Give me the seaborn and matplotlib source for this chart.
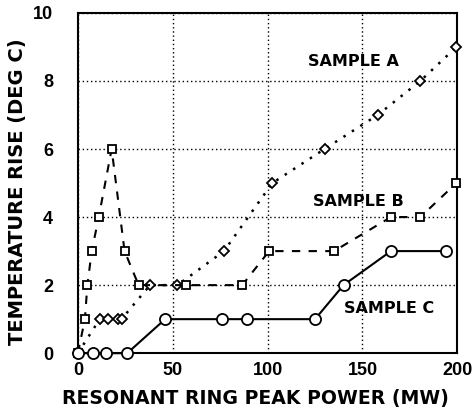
import matplotlib
matplotlib.use("Agg")
import matplotlib.pyplot as plt
import seaborn as sns
import pandas as pd

# Data
a_x = [0, 11.5, 15.7, 21, 23, 38, 52.5, 77, 102.5, 130, 158, 180.5, 199.5]
a_y = [0, 1, 1, 1, 1, 2, 2, 3, 5, 6, 7, 8, 9]

b_x = [0, 3.7, 5, 7.3, 11, 17.8, 24.6, 32, 57, 86.6, 100.8, 135, 165, 180.5, 199.5]
b_y = [0, 1, 2, 3, 4, 6, 3, 2, 2, 2, 3, 3, 4, 4, 5]

c_x = [0, 8, 15, 26, 46, 76, 89, 125, 140, 165, 194]
c_y = [0, 0, 0, 0, 1, 1, 1, 1, 2, 3, 3]

x_ticks = [0, 50, 100, 150, 200]
y_ticks = [0, 2, 4, 6, 8, 10]
labels = ["SAMPLE A", "SAMPLE B", "SAMPLE C"]

sns.set_style("white")
plt.rcParams['font.family'] = ['DejaVu Sans']
plt.rcParams['font.weight'] = 'bold'
plt.rcParams['text.color'] = 'black'
plt.rcParams['axes.labelcolor'] = 'black'
plt.rcParams['xtick.color'] = 'black'
plt.rcParams['ytick.color'] = 'black'

fig = plt.figure(figsize=(4.72, 4.16), dpi=100)
ax = fig.add_axes([0.165, 0.151, 0.804, 0.818])

dfa = pd.DataFrame({"x": a_x, "y": a_y})
dfb = pd.DataFrame({"x": b_x, "y": b_y})
dfc = pd.DataFrame({"x": c_x, "y": c_y})

sns.lineplot(data=dfa, x="x", y="y", ax=ax, sort=False, color="black",
             linestyle=(0, (1, 3)), linewidth=1.8, marker="D", markersize=4.8,
             markerfacecolor="white", markeredgecolor="black", markeredgewidth=1.3,
             clip_on=False, zorder=3)
sns.lineplot(data=dfb, x="x", y="y", ax=ax, sort=False, color="black",
             linestyle=(0, (4, 4)), linewidth=1.5, marker="s", markersize=6.3,
             markerfacecolor="white", markeredgecolor="black", markeredgewidth=1.3,
             clip_on=False, zorder=3)
sns.lineplot(data=dfc, x="x", y="y", ax=ax, sort=False, color="black",
             linestyle="-", linewidth=1.5, marker="o", markersize=8,
             markerfacecolor="white", markeredgecolor="black", markeredgewidth=1.3,
             clip_on=False, zorder=3)

ax.set_xlim(0, 200)
ax.set_ylim(0, 10)
ax.set_xticks(x_ticks)
ax.set_yticks(y_ticks)
tickfont = dict(family=['Liberation Sans', 'DejaVu Sans'], size=13, weight='bold')
ax.set_xticklabels([str(t) for t in x_ticks], fontdict=tickfont)
ax.set_yticklabels([str(t) for t in y_ticks], fontdict=tickfont)
ax.tick_params(axis='x', length=0, pad=6)
ax.tick_params(axis='y', length=0, pad=18)

ax.grid(True, color="black", linestyle=(0, (1, 2)), linewidth=1.0)
for s in ax.spines.values():
    s.set_color("black")
    s.set_linewidth(1.5)

ax.set_xlabel("RESONANT RING PEAK POWER (MW)", fontsize=13.6, fontweight='bold')
ax.set_ylabel("TEMPERATURE RISE (DEG C)", fontsize=14, fontweight='bold')
ax.xaxis.set_label_coords(0.467, -0.105)
ax.yaxis.set_label_coords(-0.135, 0.476)

ax.text(145.4, 8.56, labels[0], fontsize=11.5, fontweight='bold', ha='center', va='center')
ax.text(148, 4.47, labels[1], fontsize=11.5, fontweight='bold', ha='center', va='center')
ax.text(164, 1.32, labels[2], fontsize=11.5, fontweight='bold', ha='center', va='center')

fig.savefig("out.png", dpi=100)
